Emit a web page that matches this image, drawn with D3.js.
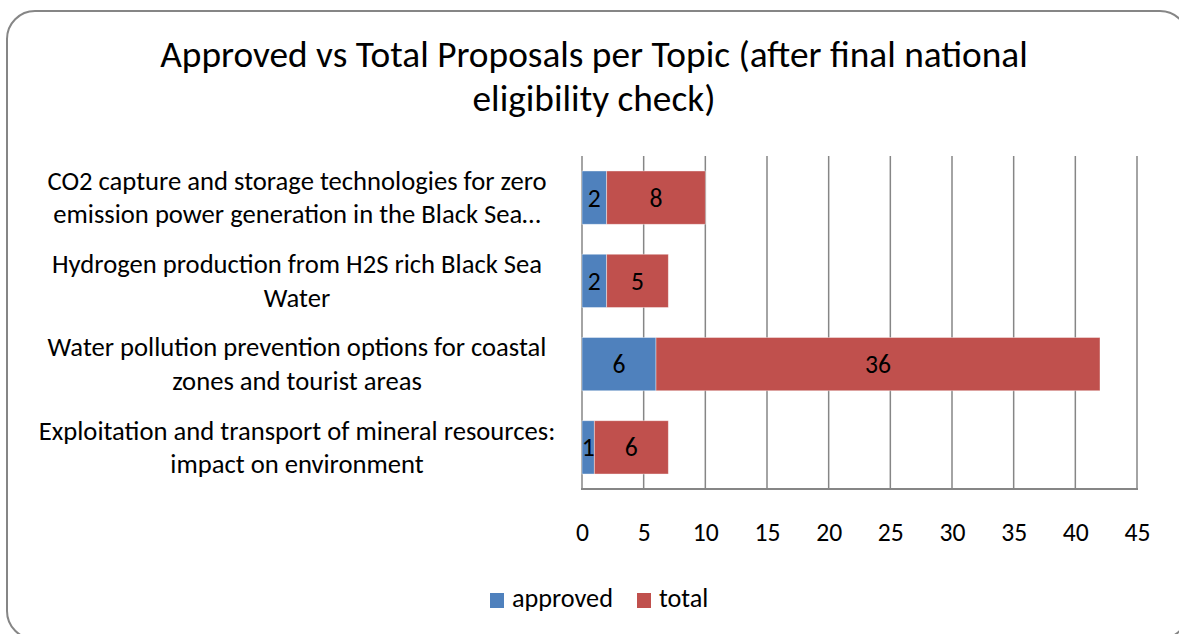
<!DOCTYPE html>
<html><head><meta charset="utf-8">
<script src="https://cdn.jsdelivr.net/npm/d3@7"></script>
<style>html,body{margin:0;padding:0;background:#fff;overflow:hidden}</style>
</head><body>
<svg id="chart" width="1179" height="634"></svg>
<script>
const titleLines = ["Approved vs Total Proposals per Topic (after final national", "eligibility check)"];
const categories = [
  ["CO2 capture and storage technologies for zero", "emission power generation in the Black Sea…"],
  ["Hydrogen production from H2S rich Black Sea", "Water"],
  ["Water pollution prevention options for coastal", "zones and tourist areas"],
  ["Exploitation and transport of mineral resources:", "impact on environment"]
];
const approved = [2, 2, 6, 1];
const total = [8, 5, 36, 6];
const seriesNames = ["approved", "total"];
const xTicks = [0, 5, 10, 15, 20, 25, 30, 35, 40, 45];

const colors = ["#4F81BD", "#C0504D"];
const FONT = "Carlito, Calibri, Lato, 'Open Sans', sans-serif";
const svg = d3.select("#chart");

// outer rounded border
svg.append("rect").attr("x", 7).attr("y", 11).attr("width", 1181).attr("height", 628)
  .attr("rx", 28).attr("ry", 28).attr("fill", "#fff").attr("stroke", "#868686").attr("stroke-width", 2);

function fit(sel, target) {
  const w = sel.node().getComputedTextLength();
  const fs = parseFloat(sel.attr("font-size"));
  sel.attr("font-size", fs * target / w);
  return fs * target / w;
}

// title
const t1 = svg.append("text").attr("x", 594).attr("y", 67).attr("text-anchor", "middle")
  .attr("font-family", FONT).attr("font-size", 32).attr("fill", "#000").text(titleLines[0]);
const tfs = fit(t1, 868);
svg.append("text").attr("x", 594).attr("y", 111).attr("text-anchor", "middle")
  .attr("font-family", FONT).attr("font-size", tfs).attr("fill", "#000").text(titleLines[1]);

const margin = {left: 582, top: 156, right: 1137, bottom: 489};
const x = d3.scaleLinear().domain([0, 45]).range([margin.left, margin.right]);
const y = d3.scaleBand().domain(d3.range(categories.length)).range([margin.top, margin.bottom]).paddingInner(0.36).paddingOuter(0.18);

// gridlines
svg.append("g").selectAll("line").data(xTicks).join("line")
  .attr("x1", d => x(d)).attr("x2", d => x(d)).attr("y1", margin.top).attr("y2", margin.bottom)
  .attr("stroke", "#868686").attr("stroke-width", 1.5);
// bottom axis line
svg.append("line").attr("x1", margin.left - 1).attr("x2", margin.right + 1)
  .attr("y1", margin.bottom).attr("y2", margin.bottom).attr("stroke", "#868686").attr("stroke-width", 2);

// axis tick labels via d3 axis
const ax = svg.append("g").attr("transform", `translate(0,${margin.bottom})`)
  .call(d3.axisBottom(x).tickValues(xTicks).tickSize(0));
ax.select(".domain").remove();
const tickFs = (() => { const t = ax.select("text").attr("font-family", FONT).attr("font-size", 22).text("45");
  const f = fit(t, 26); t.text("0"); return f; })();
ax.selectAll("text").attr("y", 52).attr("dy", 0)
  .attr("font-family", FONT).attr("font-size", tickFs).attr("fill", "#000");

// stacked bars
const stackData = categories.map((c, i) => ({i, approved: approved[i], total: total[i]}));
const stacked = d3.stack().keys(seriesNames)(stackData);
const layers = svg.append("g").selectAll("g").data(stacked).join("g").attr("fill", (d, k) => colors[k]);
layers.selectAll("rect").data(d => d).join("rect")
  .attr("x", d => x(d[0])).attr("width", d => x(d[1]) - x(d[0]))
  .attr("y", d => y(d.data.i)).attr("height", y.bandwidth())
  .attr("stroke", "rgba(255,255,255,0.5)").attr("stroke-width", 0.8);
layers.selectAll("text").data(d => d.map(v => ({v, key: d.key}))).join("text")
  .attr("x", d => (x(d.v[0]) + x(d.v[1])) / 2).attr("y", d => y(d.v.data.i) + y.bandwidth() / 2 + 9)
  .attr("text-anchor", "middle").attr("font-family", FONT).attr("font-size", tickFs).attr("fill", "#000")
  .text(d => d.v.data[d.key]);

// category labels
const labG = svg.append("g");
let probe = labG.append("text").attr("font-family", FONT).attr("font-size", 20).text(categories[3][0]);
const lfs = fit(probe, 517);
probe.remove();
const lineGap = Math.max(28, lfs * 1.23 + 0.5);
categories.forEach((lines, i) => {
  const cy = y(i) + y.bandwidth() / 2;
  lines.forEach((ln, j) => {
    labG.append("text").attr("x", 297).attr("y", cy + (j - (lines.length - 1) / 2) * lineGap + 9)
      .attr("text-anchor", "middle").attr("font-family", FONT).attr("font-size", lfs).attr("fill", "#000").text(ln);
  });
});

// legend
const leg = svg.append("g");
const legItems = [{name: seriesNames[0], sq: 490, tx: 512, w: 101}, {name: seriesNames[1], sq: 637, tx: 659, w: 49}];
let legFs = null;
legItems.forEach((it, k) => {
  leg.append("rect").attr("x", it.sq).attr("y", 593).attr("width", 14).attr("height", 15).attr("fill", colors[k]);
  const t = leg.append("text").attr("x", it.tx).attr("y", 607).attr("font-family", FONT).attr("font-size", 22).attr("fill", "#000").text(it.name);
  if (legFs === null) legFs = fit(t, it.w); else t.attr("font-size", legFs);
});
</script>
</body></html>
